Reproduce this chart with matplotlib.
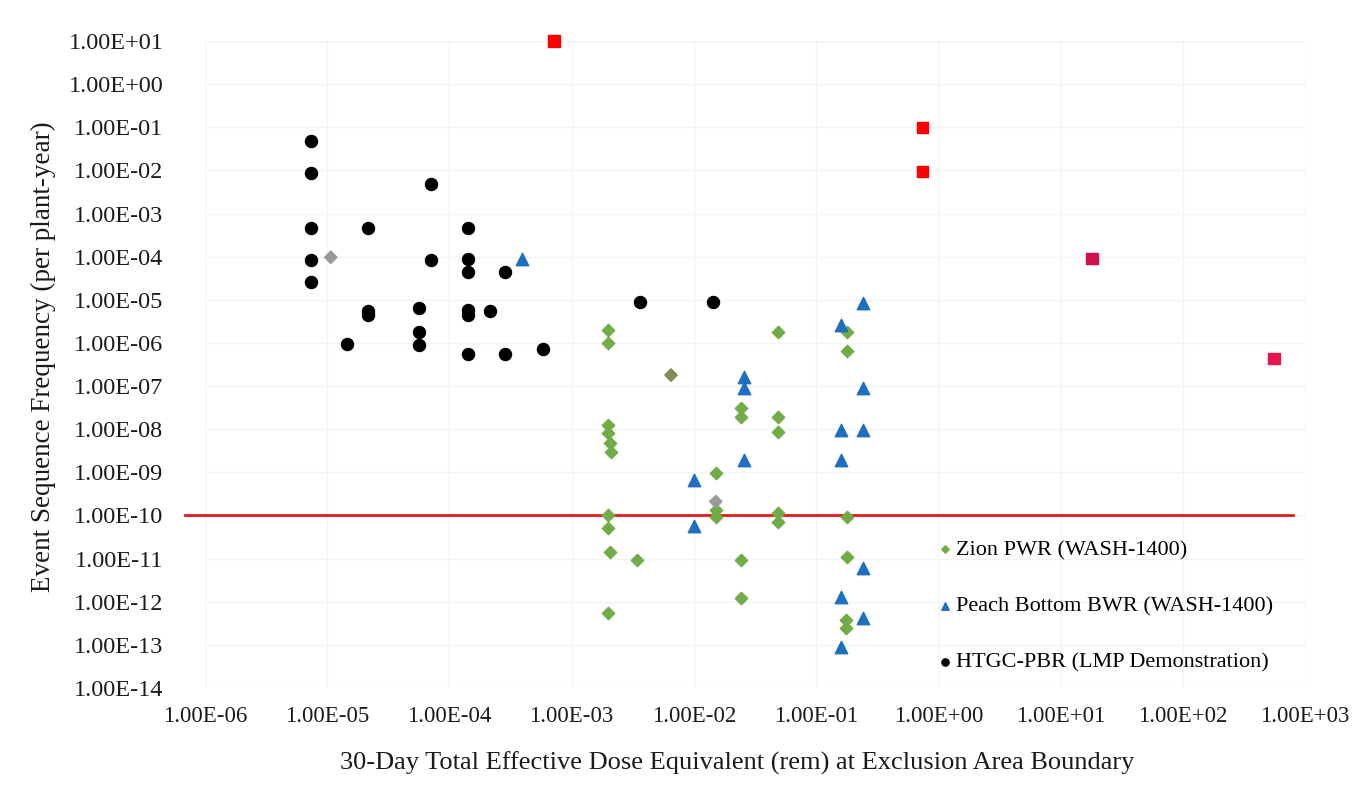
import numpy as np
import matplotlib.pyplot as plt
from matplotlib.ticker import FuncFormatter, FixedLocator, NullLocator

# HTGC-PBR (LMP Demonstration)
htgc_x = [7.3e-6, 7.3e-6, 7.1e-5, 7.3e-6, 2.14e-5, 1.43e-4, 7.3e-6, 7.1e-5, 1.43e-4,
          1.43e-4, 2.87e-4, 7.3e-6, 3.65e-3, 1.44e-2, 2.14e-5, 2.14e-5, 5.67e-5,
          1.43e-4, 1.43e-4, 2.16e-4, 1.45e-5, 5.67e-5, 5.67e-5, 1.43e-4, 2.87e-4, 5.8e-4]
htgc_y = [4.8e-2, 8.6e-3, 4.75e-3, 4.6e-4, 4.6e-4, 4.6e-4, 8.5e-5, 8.5e-5, 8.8e-5,
          4.5e-5, 4.5e-5, 2.6e-5, 9.0e-6, 9.0e-6, 5.6e-6, 4.4e-6, 6.3e-6,
          5.8e-6, 4.4e-6, 5.5e-6, 9.3e-7, 1.76e-6, 8.9e-7, 5.4e-7, 5.4e-7, 7.1e-7]

# Peach Bottom BWR (WASH-1400)
pb_x = [3.93e-4, 0.241, 0.159, 2.59e-2, 2.59e-2, 0.241, 0.16, 0.241,
        2.59e-2, 0.16, 1.0e-2, 1.0e-2, 0.241, 0.16, 0.241, 0.16]
pb_y = [8.8e-5, 8.6e-6, 2.6e-6, 1.65e-7, 8.9e-8, 8.9e-8, 9.6e-9, 9.6e-9,
        1.93e-9, 1.93e-9, 6.6e-10, 5.7e-11, 5.9e-12, 1.3e-12, 4.3e-13, 9.0e-14]

# Zion PWR (WASH-1400)
zion_x = [2e-3, 2e-3, 4.86e-2, 0.178, 0.178, 2.43e-2, 2.43e-2, 4.86e-2, 4.86e-2,
          2e-3, 2e-3, 2.04e-3, 2.1e-3, 1.51e-2, 1.51e-2, 1.51e-2, 2e-3, 2e-3,
          4.86e-2, 4.86e-2, 0.178, 2.06e-3, 3.45e-3, 2.43e-2, 0.178, 2.43e-2,
          2e-3, 0.175, 0.175]
zion_y = [2.0e-6, 9.8e-7, 1.82e-6, 1.82e-6, 6.6e-7, 3.05e-8, 1.95e-8, 1.95e-8, 8.7e-9,
          1.25e-8, 8.0e-9, 4.7e-9, 3.0e-9, 9.8e-10, 1.34e-10, 9.1e-11, 1.02e-10, 5.0e-11,
          1.12e-10, 7.2e-11, 9.1e-11, 1.44e-11, 9.3e-12, 9.3e-12, 1.1e-11, 1.2e-12,
          5.6e-13, 3.8e-13, 2.4e-13]

# faded grey diamonds
grey_x = [1.07e-5, 6.5e-3, 1.51e-2]
grey_y = [9.7e-5, 1.8e-7, 2.1e-10]
grey_c = ['#9a9a9a', '#808a55', '#9a9a9a']

# red squares
red_x = [7.18e-4, 0.747, 0.747, 18.1, 557]
red_y = [10.0, 0.1, 9.3e-3, 9.2e-5, 4.4e-7]
red_c = ['#ff0000', '#ff0000', '#ff0000', '#d0104a', '#e8154e']

limit_y = 1e-10

plt.rcParams['font.family'] = ['Liberation Serif', 'DejaVu Serif']

fig = plt.figure(figsize=(13.53, 7.93), dpi=100)
ax = fig.add_axes([205 / 1353, 105 / 793, 1100 / 1353, 647 / 793])
ax.set_xscale('log')
ax.set_yscale('log')
ax.set_xlim(1e-6, 1e3)
ax.set_ylim(1e-14, 1e1)

ax.xaxis.set_major_locator(FixedLocator([10.0 ** k for k in range(-6, 4)]))
ax.yaxis.set_major_locator(FixedLocator([10.0 ** k for k in range(-14, 2)]))
ax.xaxis.set_minor_locator(NullLocator())
ax.yaxis.set_minor_locator(NullLocator())
fmt = FuncFormatter(lambda v, p: f"{v:.2E}")
ax.xaxis.set_major_formatter(fmt)
ax.yaxis.set_major_formatter(fmt)
ax.tick_params(axis='both', length=0, colors='#1a1a1a')
ax.tick_params(axis='y', pad=30, labelsize=17.5)
ax.tick_params(axis='x', pad=13, labelsize=16.5)

for s in ax.spines.values():
    s.set_visible(False)
ax.grid(True, color='#f3f3f3', linewidth=1)
ax.set_axisbelow(True)

ax.axhline(limit_y, xmin=-20 / 1100, xmax=(1293 - 205) / 1100, color='#e31a1c',
           linewidth=2, clip_on=False, zorder=2)

ax.scatter(zion_x, zion_y, marker='D', s=40, color='#70ad47', zorder=3,
           label='Zion PWR (WASH-1400)', clip_on=False)
ax.scatter(pb_x, pb_y, marker='^', s=80, color='#1f6fbf', zorder=3,
           label='Peach Bottom BWR (WASH-1400)', clip_on=False)
ax.scatter(htgc_x, htgc_y, marker='o', s=75, color='black', zorder=3,
           label='HTGC-PBR (LMP Demonstration)', clip_on=False)
ax.scatter(grey_x, grey_y, marker='D', s=40, color=grey_c, zorder=3, clip_on=False)
ax.scatter(red_x, red_y, marker='s', s=65, color=red_c, zorder=3, clip_on=False)

ax.set_xlabel('30-Day Total Effective Dose Equivalent (rem) at Exclusion Area Boundary',
              fontsize=19, color='#1a1a1a', va='center')
ax.xaxis.set_label_coords((737 - 205) / 1100, (688 - 763) / 647)
ax.set_ylabel('Event Sequence Frequency (per plant-year)', fontsize=19.5,
              color='#1a1a1a', va='center')
ax.yaxis.set_label_coords((43 - 205) / 1100, (688 - 357) / 647)

leg = ax.legend(loc='lower left', bbox_to_anchor=(0.644, -0.007), frameon=False,
                fontsize=16, markerscale=0.6, handletextpad=0.0, labelspacing=1.6,
                handlelength=1.0)

fig.savefig('out.png', dpi=100)
